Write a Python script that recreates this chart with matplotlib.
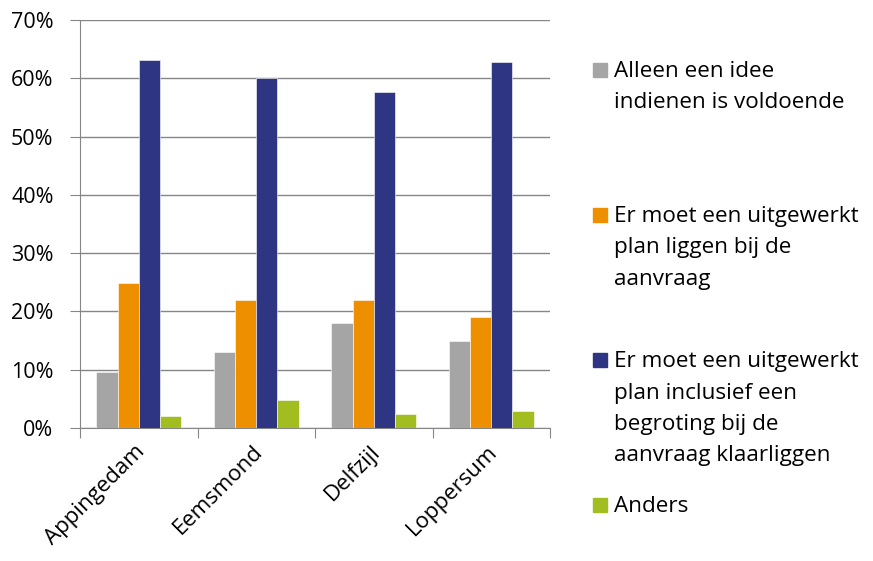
import matplotlib
matplotlib.use("Agg")
import matplotlib.pyplot as plt
import matplotlib.transforms as mtransforms
import numpy as np
from matplotlib.patches import Rectangle

plt.rcParams['font.family'] = ['Open Sans', 'DejaVu Sans']

# data
gemeenten = ["Appingedam", "Eemsmond", "Delfzijl", "Loppersum"]
idee = [9.6, 13.1, 18.0, 15.0]
plan = [24.9, 21.9, 21.9, 19.1]
begroting = [63.2, 60.0, 57.6, 62.8]
anders = [2.0, 4.8, 2.35, 3.0]

labels = ["Alleen een idee\nindienen is voldoende",
          "Er moet een uitgewerkt\nplan liggen bij de\naanvraag",
          "Er moet een uitgewerkt\nplan inclusief een\nbegroting bij de\naanvraag klaarliggen",
          "Anders"]
colors = ["#A5A5A5", "#EE8F00", "#2E3582", "#A2BD1F"]
series = [idee, plan, begroting, anders]

W, H = 873, 561
fs = 15.5
fs_leg = 16.2
fig = plt.figure(figsize=(W / 100, H / 100), dpi=100)
ax = fig.add_axes([80 / W, 1 - 428 / H, 470 / W, 408 / H])

x = np.arange(len(gemeenten))
bw = 0.18
for i, (vals, c) in enumerate(zip(series, colors)):
    ax.bar(x + (i - 1.5) * bw, vals, bw, color=c, edgecolor="white", linewidth=0.4, zorder=3)

ax.set_xlim(-0.5, 3.5)
ax.set_ylim(0, 70)
ax.set_yticks(np.arange(0, 71, 10))
ax.set_yticklabels([f"{v}%" for v in range(0, 71, 10)], fontsize=fs)
ax.yaxis.grid(True, color="#868686", linewidth=1.0, zorder=0)

# x ticks sit between the categories, labels at the centres
ax.set_xticks(np.arange(-0.5, 3.6, 1.0))
ax.set_xticklabels([])
ax.set_xticks(x, minor=True)
ax.set_xticklabels(gemeenten, minor=True, rotation=45, ha="right",
                   rotation_mode="anchor", fontsize=16)
ax.tick_params(axis="x", which="minor", length=0, pad=6)
ax.tick_params(axis="x", which="major", length=7, color="#868686")
ax.tick_params(axis="y", length=7, color="#868686", pad=12)

# small nudge of the rotated labels
shift = mtransforms.ScaledTranslation(-4 / 100, -5 / 100, fig.dpi_scale_trans)
for lbl in ax.get_xticklabels(minor=True):
    lbl.set_transform(lbl.get_transform() + shift)

for s in ["top", "right"]:
    ax.spines[s].set_visible(False)
for s in ["left", "bottom"]:
    ax.spines[s].set_color("#868686")

# legend on the right, square from cap top to baseline of the first line
leg_base = [77, 222, 367, 512]
for lab, c, yb in zip(labels, colors, leg_base):
    fig.patches.append(Rectangle((593 / W, 1 - yb / H), 14 / W, 14 / H,
                                 transform=fig.transFigure, color=c))
    for k, line in enumerate(lab.split("\n")):
        fig.text(614 / W, 1 - (yb + 31.5 * k) / H, line, fontsize=fs_leg,
                 va="baseline", ha="left")

fig.savefig("out.png", dpi=100)
